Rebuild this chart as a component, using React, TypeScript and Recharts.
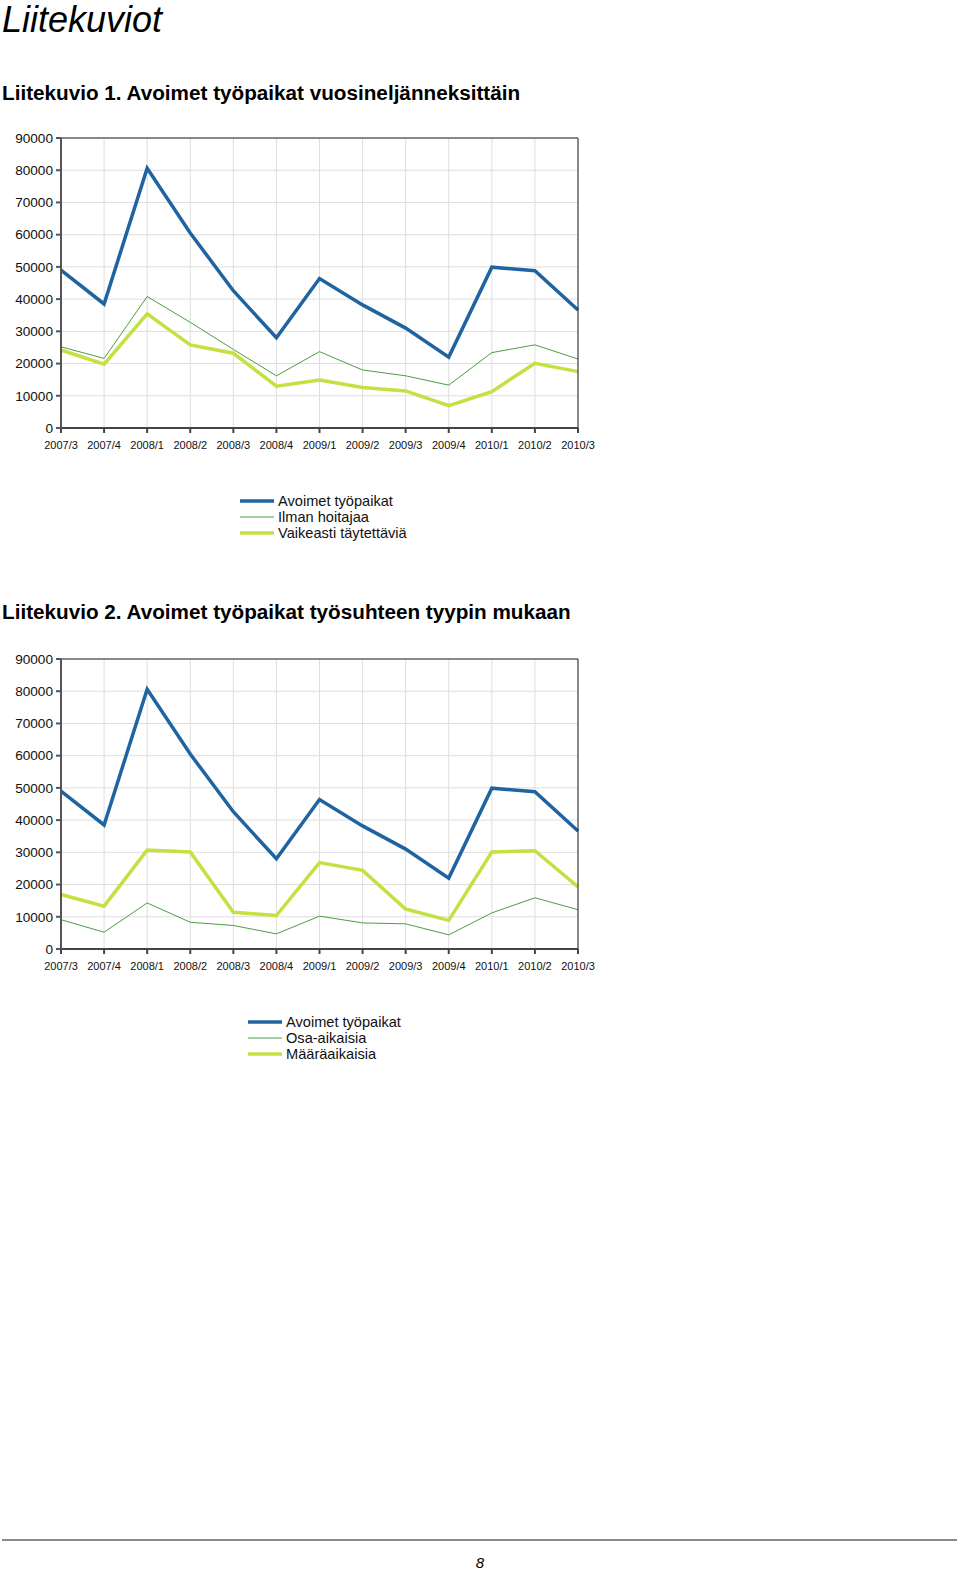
import { CartesianGrid, Legend, Line, LineChart, ReferenceLine, XAxis, YAxis } from 'recharts'

const quarters = ['2007/3', '2007/4', '2008/1', '2008/2', '2008/3', '2008/4', '2009/1', '2009/2', '2009/3', '2009/4', '2010/1', '2010/2', '2010/3']
const avoimet = [49000, 38500, 80600, 60500, 42600, 28000, 46400, 38200, 31000, 22000, 49900, 48800, 36600]
const ilmanHoitajaa = [25200, 21600, 40800, 32800, 24400, 16200, 23700, 18000, 16200, 13300, 23400, 25800, 21400]
const vaikeasti = [24200, 19800, 35400, 25800, 23200, 13000, 14900, 12600, 11500, 6900, 11300, 20100, 17500]
const osaAikaisia = [9100, 5200, 14300, 8300, 7300, 4700, 10200, 8100, 7800, 4400, 11200, 15900, 12200]
const maaraaikaisia = [16900, 13300, 30700, 30100, 11400, 10400, 26800, 24400, 12400, 8900, 30100, 30500, 19300]
const yTicks = [0, 10000, 20000, 30000, 40000, 50000, 60000, 70000, 80000, 90000]

const BLUE = '#1f63a1'
const GREEN = '#4c9e42'
const LIME = '#c4e041'
const FONT = '"Liberation Sans", Arial, sans-serif'

interface Serie {
  key: string
  name: string
  values: number[]
  color: string
  width: number
}

function LegendBox({ series }: { series: Serie[] }) {
  return (
    <div style={{ fontFamily: FONT, fontSize: 14.6, color: '#111' }}>
      {series.map((s) => (
        <div key={s.key} style={{ display: 'flex', alignItems: 'center', height: 16 }}>
          <svg width={34} height={16} style={{ marginRight: 4 }}>
            <line x1={0} x2={34} y1={8} y2={8} stroke={s.color} strokeWidth={s.width} />
          </svg>
          <span>{s.name}</span>
        </div>
      ))}
    </div>
  )
}

function QuarterChart({ series, top, legendLeft }: { series: Serie[]; top: number; legendLeft: number }) {
  const data = quarters.map((q, i) => {
    const row: Record<string, string | number> = { q }
    series.forEach((s) => (row[s.key] = s.values[i]))
    return row
  })
  return (
    <div style={{ position: 'absolute', left: 0, top }}>
      <LineChart width={640} height={470} data={data} margin={{ top: 18, right: 0, left: 0, bottom: 132 }}>
        <CartesianGrid stroke="#dedede" yAxisId="left" />
        <XAxis
          dataKey="q"
          tickSize={5}
          tickMargin={8}
          interval={0}
          height={30}
          stroke="#444"
          strokeWidth={2}
          tick={{ fontSize: 11, fill: '#111', fontFamily: FONT }}
        />
        <YAxis
          yAxisId="left"
          domain={[0, 90000]}
          ticks={yTicks}
          width={61}
          tickSize={5}
          tickMargin={3}
          stroke="#555"
          strokeWidth={2}
          tick={{ fontSize: 13.6, fill: '#111', fontFamily: FONT }}
        />
        <YAxis
          yAxisId="right"
          orientation="right"
          domain={[0, 90000]}
          ticks={yTicks}
          width={62}
          tickSize={5}
          tickMargin={1}
          stroke="#222"
          tick={{ fontSize: 13.6, fill: '#111', fontFamily: FONT }}
        />
        <ReferenceLine yAxisId="left" y={90000} stroke="#222" />
        {series.map((s) => (
          <Line
            key={s.key}
            yAxisId="left"
            type="linear"
            dataKey={s.key}
            name={s.name}
            stroke={s.color}
            strokeWidth={s.width}
            dot={false}
            isAnimationActive={false}
          />
        ))}
        <Legend
          layout="vertical"
          align="center"
          verticalAlign="middle"
          wrapperStyle={{ left: legendLeft, top: 373, width: 'auto' }}
          content={() => <LegendBox series={series} />}
        />
      </LineChart>
    </div>
  )
}

const chart1: Serie[] = [
  { key: 'avoimet', name: 'Avoimet työpaikat', values: avoimet, color: BLUE, width: 3.5 },
  { key: 'ilman', name: 'Ilman hoitajaa', values: ilmanHoitajaa, color: GREEN, width: 1 },
  { key: 'vaikeasti', name: 'Vaikeasti täytettäviä', values: vaikeasti, color: LIME, width: 3.5 },
]

const chart2: Serie[] = [
  { key: 'avoimet', name: 'Avoimet työpaikat', values: avoimet, color: BLUE, width: 3.5 },
  { key: 'osa', name: 'Osa-aikaisia', values: osaAikaisia, color: GREEN, width: 1 },
  { key: 'maara', name: 'Määräaikaisia', values: maaraaikaisia, color: LIME, width: 3.5 },
]

export default function App() {
  const heading = { position: 'absolute' as const, left: 2, fontFamily: FONT, fontWeight: 'bold' as const, fontSize: 20.7, lineHeight: 1, whiteSpace: 'nowrap' as const, color: '#000' }
  return (
    <div style={{ position: 'absolute', left: 0, top: 0, width: 960, height: 1572, background: '#fff', overflow: 'hidden' }}>
      <div style={{ position: 'absolute', left: 2, top: 2, fontFamily: FONT, fontStyle: 'italic', fontSize: 36, lineHeight: 1 }}>Liitekuviot</div>
      <div style={{ ...heading, top: 83 }}>Liitekuvio 1. Avoimet työpaikat vuosineljänneksittäin</div>
      <QuarterChart series={chart1} top={120} legendLeft={240} />
      <div style={{ ...heading, top: 602 }}>Liitekuvio 2. Avoimet työpaikat työsuhteen tyypin mukaan</div>
      <QuarterChart series={chart2} top={641} legendLeft={248} />
      <div style={{ position: 'absolute', left: 2, top: 1539, width: 955, height: 2, background: '#8a8a8a' }} />
      <div style={{ position: 'absolute', left: 470, width: 20, textAlign: 'center', top: 1555, fontFamily: FONT, fontStyle: 'italic', fontSize: 15, lineHeight: 1 }}>8</div>
    </div>
  )
}
